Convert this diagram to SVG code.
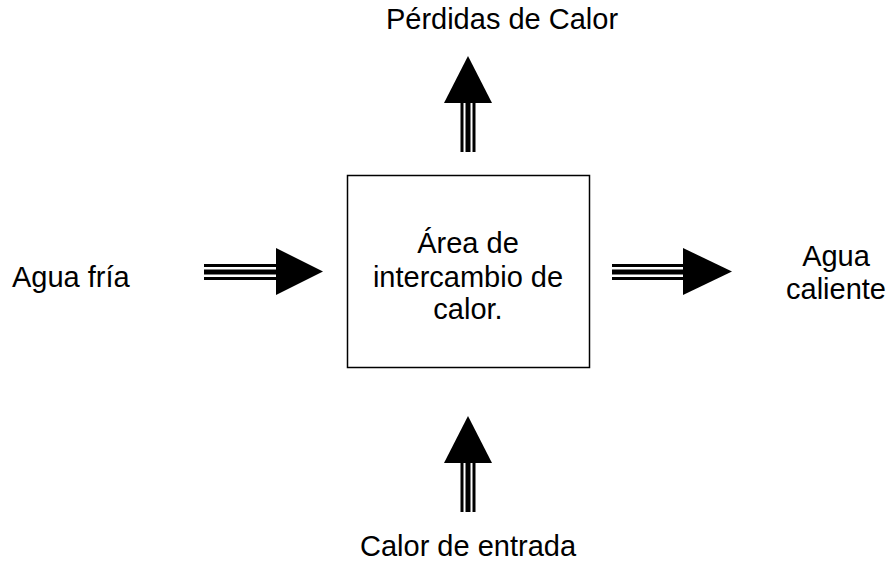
<svg xmlns="http://www.w3.org/2000/svg" width="888" height="562" viewBox="0 0 888 562">
<style>
text{font-family:"Liberation Sans",Arial,sans-serif;font-size:29px;fill:#000;text-anchor:middle}
.thin{stroke:#000;stroke-width:3}
.thick{stroke:#000;stroke-width:5}
.head{fill:#000}
</style>
<rect width="888" height="562" fill="#fff"/>
<g id="box">
<rect x="347.5" y="175.5" width="242" height="192" fill="#fff" stroke="#000" stroke-width="1.5"/>
<text x="468" y="253">Área de</text>
<text x="468" y="287">intercambio de</text>
<text x="468" y="319">calor.</text>
</g>
<g id="agua-fria"><text x="12" y="287" style="text-anchor:start">Agua fría</text></g>
<g id="agua-caliente"><text x="836" y="266">Agua</text><text x="836" y="299">caliente</text></g>
<g id="perdidas"><text x="502" y="29">Pérdidas de Calor</text></g>
<g id="calor-entrada"><text x="468" y="556">Calor de entrada</text></g>
<g id="connectors">
<g id="arrow-in">
<line class="thin" x1="204" y1="265.5" x2="277" y2="265.5"/>
<line class="thick" x1="204" y1="272" x2="277" y2="272"/>
<line class="thin" x1="204" y1="278.5" x2="277" y2="278.5"/>
<polygon class="head" points="276,248 323,271.5 276,295"/>
</g>
<g id="arrow-out">
<line class="thin" x1="612" y1="265.5" x2="684" y2="265.5"/>
<line class="thick" x1="612" y1="272" x2="684" y2="272"/>
<line class="thin" x1="612" y1="278.5" x2="684" y2="278.5"/>
<polygon class="head" points="683,248 732,271.5 683,295"/>
</g>
<g id="arrow-loss">
<line class="thin" x1="462" y1="102" x2="462" y2="152"/>
<line class="thick" x1="468" y1="102" x2="468" y2="152"/>
<line class="thin" x1="474" y1="102" x2="474" y2="152"/>
<polygon class="head" points="444,103 468,56 492,103"/>
</g>
<g id="arrow-heat">
<line class="thin" x1="462" y1="462" x2="462" y2="512"/>
<line class="thick" x1="468" y1="462" x2="468" y2="512"/>
<line class="thin" x1="474" y1="462" x2="474" y2="512"/>
<polygon class="head" points="444,463 468,416 492,463"/>
</g>
</g>
</svg>
